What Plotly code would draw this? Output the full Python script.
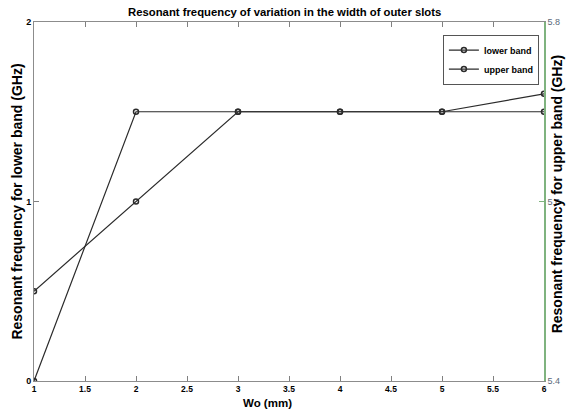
import plotly.graph_objects as go

# Outer slot width (mm)
wo_mm = [1, 2, 3, 4, 5, 6]
# Resonant frequencies (GHz)
lower_band = [0.5, 1.0, 1.5, 1.5, 1.5, 1.6]
upper_band = [5.4, 5.7, 5.7, 5.7, 5.7, 5.7]

x_ticks = [1, 1.5, 2, 2.5, 3, 3.5, 4, 4.5, 5, 5.5, 6]
left_ticks = [0, 1, 2]
right_ticks = [5.4, 5.6, 5.8]

line_col = "#2b2b2b"
green = "#7fb37f"
font_fam = "Liberation Sans, Arial, sans-serif"

fig = go.Figure()
fig.add_trace(go.Scatter(
    x=wo_mm, y=lower_band, name="lower band", mode="lines+markers",
    line=dict(color=line_col, width=1.2),
    marker=dict(symbol="circle-open", size=5, color=line_col, line=dict(width=1.5)),
    yaxis="y",
))
fig.add_trace(go.Scatter(
    x=wo_mm, y=upper_band, name="upper band", mode="lines+markers",
    line=dict(color=line_col, width=1.2),
    marker=dict(symbol="circle-open", size=5, color=line_col, line=dict(width=1.5)),
    yaxis="y2",
))

fig.update_layout(
    width=566, height=413,
    margin=dict(l=34, r=22, t=22, b=32, autoexpand=False),
    paper_bgcolor="white", plot_bgcolor="white",
    font=dict(family=font_fam, color="black"),
    title=dict(
        text="Resonant frequency of variation in the width of outer slots",
        x=0.503, xanchor="center", y=0.971, yanchor="middle",
        font=dict(size=11.3, weight="bold", family=font_fam),
    ),
    xaxis=dict(
        range=[1, 6], tickvals=x_ticks, ticktext=[f"{v:g}" for v in x_ticks],
        ticks="inside", ticklen=5, tickcolor="#808080",
        showline=True, linecolor="#8c8c8c", linewidth=1, mirror="ticks",
        showgrid=False, zeroline=False, automargin=False,
        tickfont=dict(size=8.5, weight="bold"),
    ),
    yaxis=dict(
        range=[0, 2], tickvals=left_ticks, ticktext=[str(v) for v in left_ticks],
        ticks="inside", ticklen=5, tickcolor="#808080",
        showline=True, linecolor="#8c8c8c", linewidth=1,
        showgrid=False, zeroline=False, automargin=False,
        tickfont=dict(size=9, weight="bold"),
        title=dict(text="Resonant frequency for lower band (GHz)",
                   font=dict(size=14, weight="bold"), standoff=0),
    ),
    yaxis2=dict(
        range=[5.4, 5.8], tickvals=right_ticks, ticktext=[f"{v:g}" for v in right_ticks],
        overlaying="y", side="right",
        ticks="inside", ticklen=5, tickcolor=green,
        showline=True, linecolor=green, linewidth=1.5,
        showgrid=False, zeroline=False, automargin=False,
        tickfont=dict(size=9, color="#5a6a7a"),
    ),
    annotations=[
        dict(
            text="Wo (mm)",
            xref="paper", yref="paper", x=0.457, y=0, yshift=-22,
            xanchor="center", yanchor="middle", showarrow=False,
            font=dict(size=11.5, weight="bold"),
        ),
        dict(
            text="Resonant frequency for upper band (GHz)",
            xref="paper", yref="paper", x=1.0, xshift=13, y=0.52,
            xanchor="center", yanchor="middle", textangle=-90, showarrow=False,
            font=dict(size=14, weight="bold"),
        ),
    ],
    legend=dict(
        x=0.99, y=0.965, xanchor="right", yanchor="top",
        bgcolor="white", bordercolor="#555555", borderwidth=1,
        font=dict(size=9, weight="bold"),
        itemwidth=30, tracegroupgap=2,
    ),
    showlegend=True,
)

fig.write_html("out.html")
